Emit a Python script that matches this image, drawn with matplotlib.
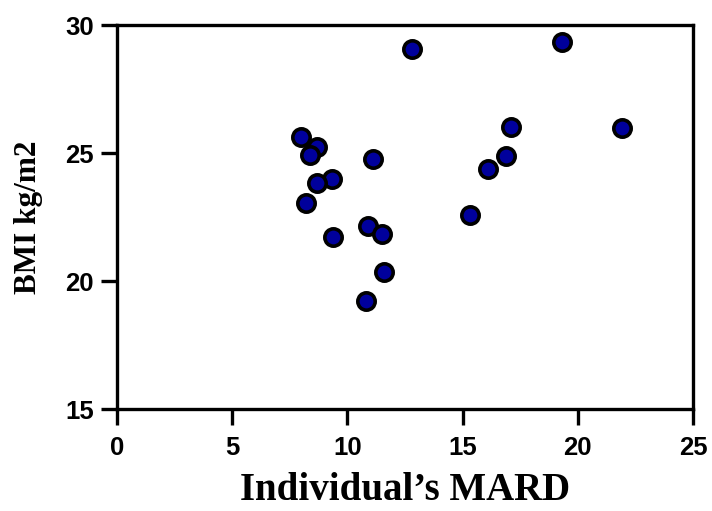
import matplotlib
matplotlib.use("Agg")
import matplotlib.pyplot as plt

mard = [12.80, 19.31, 17.12, 21.92, 8.00, 8.69, 8.39, 11.10, 16.90, 16.10,
        9.31, 8.69, 8.20, 15.31, 10.88, 11.51, 9.39, 11.61, 10.80]
bmi = [29.06, 29.32, 26.00, 25.96, 25.63, 25.24, 24.94, 24.77, 24.89, 24.39,
       23.98, 23.81, 23.05, 22.59, 22.13, 21.83, 21.72, 20.35, 19.20]
xticks = [0, 5, 10, 15, 20, 25]
yticks = [15, 20, 25, 30]

fig = plt.figure(figsize=(7.12, 5.11), dpi=100)
ax = fig.add_axes([117/712, 1-409/511, (693-117)/712, (409-25)/511])
ax.plot(mard, bmi, 'o', ms=12.5, mfc='#00009c', mec='black', mew=2.6, zorder=3, clip_on=False)
ax.set_xlim(0, 25)
ax.set_ylim(15, 30)
ax.set_xticks(xticks)
ax.set_yticks(yticks)
for s in ax.spines.values():
    s.set_linewidth(2.4)
ax.tick_params(width=2.4, length=11.5, labelsize=18.5, direction='out')
ax.tick_params(axis='x', pad=8)
ax.tick_params(axis='y', pad=5)
for lab in ax.get_xticklabels() + ax.get_yticklabels():
    lab.set_fontfamily('Liberation Sans')
    lab.set_fontweight('bold')
ax.set_xlabel("Individual\u2019s MARD", fontfamily='Liberation Serif', fontweight='bold', fontsize=28)
ax.set_ylabel("BMI kg/m2", fontfamily='Liberation Serif', fontweight='bold', fontsize=22.5)
ax.xaxis.set_label_coords(0.5, -0.163)
ax.yaxis.set_label_coords(-0.128, 0.5)
fig.savefig("out.png", dpi=100)
